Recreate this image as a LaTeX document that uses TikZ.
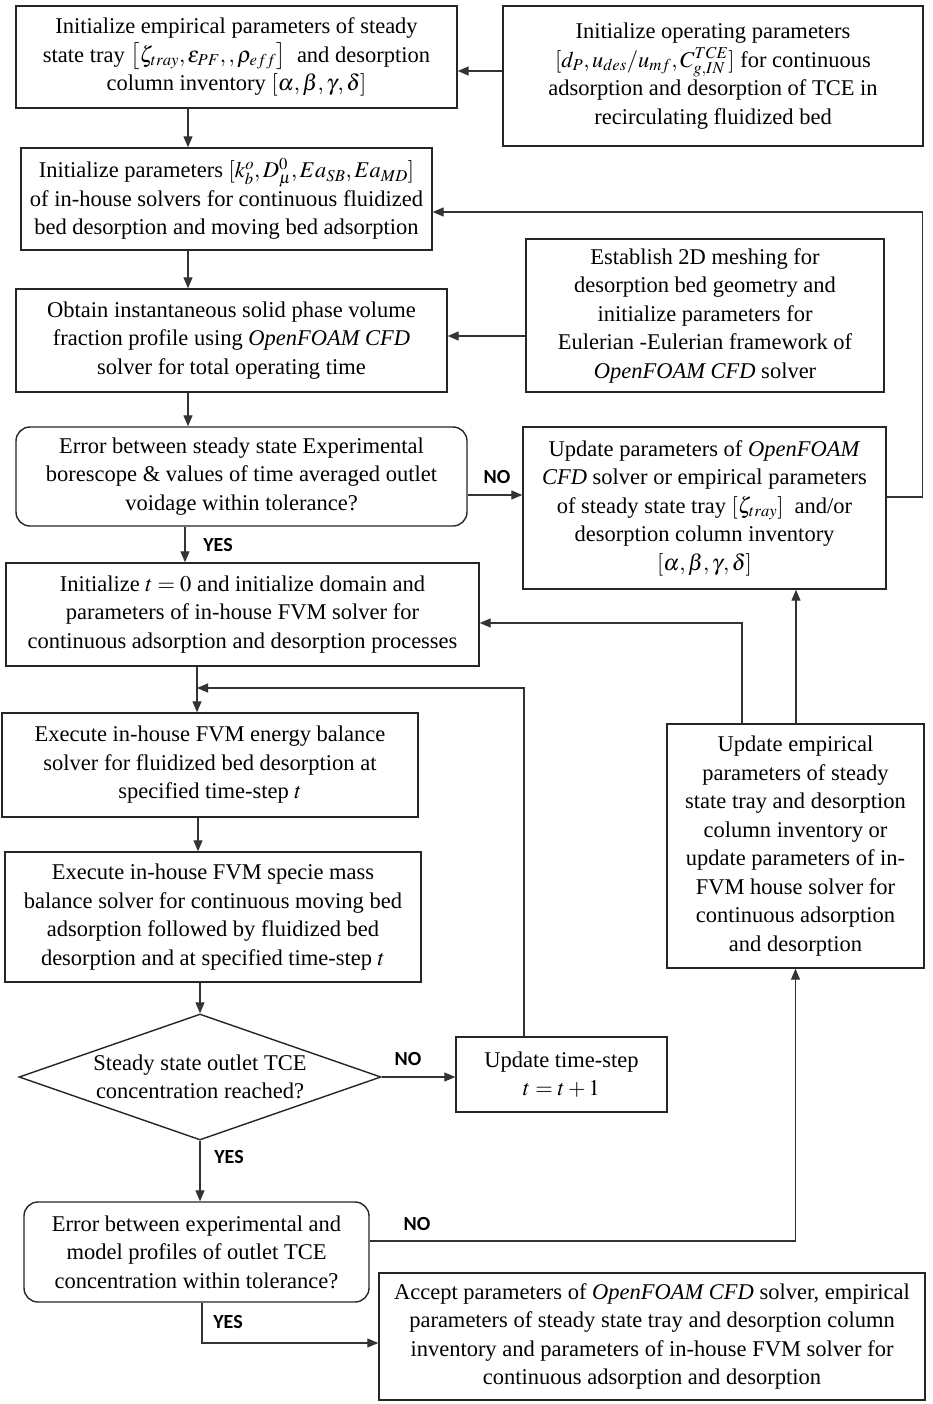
\documentclass[tikz,border=0pt]{standalone}
\usepackage{mathptmx}
\usepackage{fontspec}
\setmainfont{Liberation Serif}
\newfontfamily\lblfont{Carlito}
\usetikzlibrary{arrows.meta,shapes.geometric}
\tikzset{
  wh/.style 2 args={minimum width=#1pt, minimum height=#2pt},
  box/.style={draw=black!85, line width=1.4pt, inner sep=0pt, align=center,
    font=\fontsize{22.5}{28.5}\selectfont},
  rbox/.style={box, rounded corners=14pt},
  arr/.style={draw=black!80, line width=1.2pt, -{Triangle[length=11pt,width=9pt]}},
  lbl/.style={font=\lblfont\bfseries\fontsize{20}{24}\selectfont, inner sep=0pt},
  dtext/.style={inner sep=0pt, align=center, font=\fontsize{22.5}{28.5}\selectfont},
}
\begin{document}
\begin{tikzpicture}[x=1pt,y=-1pt]
\fill[white] (0,0) rectangle (933,1404);
\useasboundingbox (0,0) rectangle (933,1404);

% boxes
\node[box, wh={441}{102}] (A) at (236.5,57) {Initialize empirical parameters of steady\\
  state tray $\bigl[\zeta_{tray},\epsilon_{PF},,\rho_{eff}\bigr]$\ \ and desorption\\
  column inventory $[\alpha,\beta,\gamma,\delta]$};
\node[box, wh={420}{140}] (B) at (713,76) {Initialize operating parameters\\
  $[d_P,u_{des}/u_{mf},C_{g,IN}^{TCE}]$ for continuous\\
  adsorption and desorption of TCE in\\ recirculating fluidized bed};
\node[box, wh={411}{102}] (C) at (226.5,199) {Initialize parameters $[k_b^o,D_\mu^0,Ea_{SB},Ea_{MD}]$\\
  of in-house solvers for continuous fluidized\\ bed desorption and moving bed adsorption};
\node[box, wh={358}{153}] (D) at (705,315.5) {Establish 2D meshing for\\ desorption bed geometry and\\
  initialize parameters for\\ Eulerian -Eulerian framework of\\ \textit{OpenFOAM CFD} solver};
\node[box, wh={431}{103}] (E) at (231.5,340.5) {Obtain instantaneous solid phase volume\\
  fraction profile using \textit{OpenFOAM CFD}\\ solver for total operating time};
\node[rbox, wh={451}{99}] (R1) at (241.5,476.5) {Error between steady state Experimental\\
  borescope \& values of time averaged outlet\\ voidage within tolerance?};
\node[box, wh={363}{162}] (F) at (704.5,508) {Update parameters of \textit{OpenFOAM}\\
  \textit{CFD} solver or empirical parameters\\ of steady state tray $[\zeta_{tray}]$\ \ and/or\\
  desorption column inventory\\ $[\alpha,\beta,\gamma,\delta]$};
\node[box, wh={473}{103}] (G) at (242.5,614.5) {Initialize $t=0$ and initialize domain and\\
  parameters of in-house FVM solver for\\ continuous adsorption and desorption processes};
\node[box, wh={257}{244}] (H) at (795.5,846) {Update empirical\\ parameters of steady\\
  state tray and desorption\\ column inventory or\\ update parameters of in-\\
  FVM house solver for\\ continuous adsorption\\ and desorption};
\node[box, wh={416}{104}] (X1) at (210,765) {Execute in-house FVM energy balance\\
  solver for fluidized bed desorption at\\ specified time-step $t$};
\node[box, wh={416}{130}] (X2) at (213,917) {Execute in-house FVM specie mass\\
  balance solver for continuous moving bed\\ adsorption followed by fluidized bed\\
  desorption and at specified time-step $t$};
\node[draw=black!85, line width=1.4pt, diamond, inner sep=0pt, wh={362}{126}] (Dia) at (200,1077) {};
\node[dtext] (DiaT) at (Dia.center) {Steady state outlet TCE\\ concentration reached?};
\node[box, wh={211}{75}] (TS) at (561.5,1074.5) {Update time-step\\ $t=t+1$};
\node[rbox, wh={345}{100}] (R2) at (196.5,1252) {Error between experimental and\\
  model profiles of outlet TCE\\ concentration within tolerance?};
\node[box, wh={546}{127}] (Acc) at (652,1336.5) {Accept parameters of \textit{OpenFOAM CFD} solver, empirical\\
  parameters of steady state tray and desorption column\\
  inventory and parameters of in-house FVM solver for\\ continuous adsorption and desorption};

% connectors
\draw[arr] (B.west |- 0,71) -- (A.east |- 0,71);
\draw[arr] (A.south -| 188,0) -- (C.north -| 188,0);
\draw[arr] (C.south -| 188,0) -- (E.north -| 188,0);
\draw[arr] (D.west |- 0,336) -- (E.east |- 0,336);
\draw[arr] (E.south -| 188,0) -- (R1.north -| 188,0);
\draw[arr] (R1.east |- 0,495) -- (F.west |- 0,495);
\draw[arr] (F.east |- 0,497) -- ++(36,0) |- (C.east |- 0,212);
\draw[arr] (R1.south -| 185,0) -- (G.north -| 185,0);
\draw[arr] (H.north -| 742,0) |- (G.east |- 0,623);
\draw[arr] (H.north -| 796,0) -- (F.south -| 796,0);
\draw[arr] (G.south -| 197,0) -- (X1.north -| 197,0);
\coordinate (J) at (197,688);
\draw[arr] (TS.north -| 524,0) |- (J);
\draw[arr] (X1.south -| 198,0) -- (X2.north -| 198,0);
\draw[arr] (X2.south -| Dia.north) -- (Dia.north);
\draw[arr] (Dia.east) -- (TS.west |- Dia.east);
\draw[arr] (Dia.south) -- (R2.north -| Dia.south);
\draw[arr] (R2.east |- 0,1241) -| (H.south);
\draw[arr] (R2.south -| 202,0) |- (Acc.west |- 0,1343);

% labels
\node[lbl] (n1) at (497,477) {NO};
\node[lbl] (y1) at (218,545) {YES};
\node[lbl] (n2) at (408,1059) {NO};
\node[lbl] (y2) at (229,1157) {YES};
\node[lbl] (n3) at (417,1224) {NO};
\node[lbl] (y3) at (228,1322) {YES};
\end{tikzpicture}
\end{document}
